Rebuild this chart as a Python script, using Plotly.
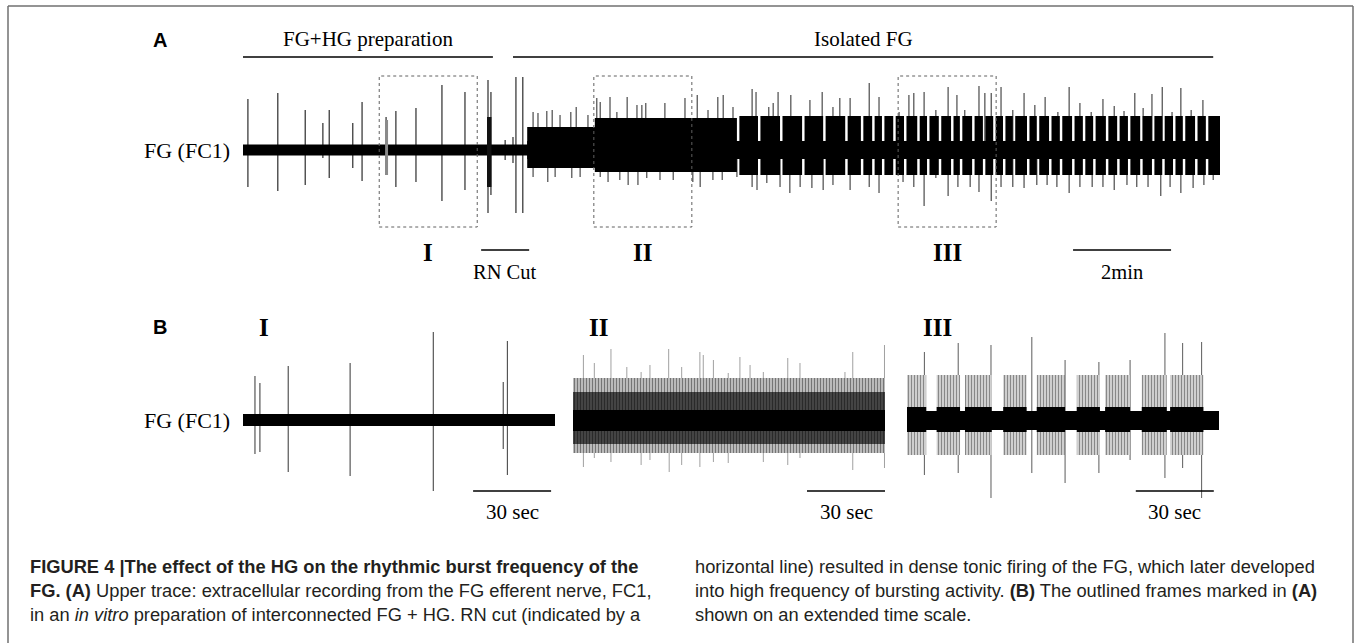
import plotly.graph_objects as go

W, H = 1356, 643

# ---------------- Panel A : whole recording (time in min, amplitude in a.u.) ----------------
A_T_END = 19.94
A_CUT_T = 5.80            # RN cut -> onset of dense tonic firing
A_BURST_ONSET = 10.08     # onset of bursting

# spikes before the RN cut (up / down tips)
A_pre_t  = [0.10, 0.71, 1.27, 1.63, 1.76, 2.24, 2.43, 2.92, 3.12, 3.53, 4.06, 4.53, 5.00, 5.06, 5.35, 5.51, 5.57, 5.71]
A_pre_up = [51, 57, 40, 27, 40, 27, 48, 33, 39, 42, 65, 58, 70, 58, 10, 13, 73, 73]
A_pre_dn = [-37, -41, -35, -8, -28, -18, -31, -25, -37, -32, -51, -40, -63, -45, -10, -13, -63, -63]
A_pre_noise = 5.5
# short bursts before the cut
A_preburst_start = [2.90, 4.98]
A_preburst_end   = [2.96, 5.07]
A_preburst_top   = [30, 33]
A_preburst_bot   = [-25, -37]

# dense tonic firing after the cut
A_dense_start = [5.80, 7.18]
A_dense_end   = [7.18, 10.08]
A_dense_top   = [23, 32]
A_dense_bot   = [-18, -22]
A_core_noise  = 9

# bursting period: pauses between bursts
A_pause_t = [10.08, 10.51, 10.96, 11.41, 11.84, 12.29, 12.61, 12.84, 13.04, 13.27, 13.49, 13.76,
             13.96, 14.20, 14.45, 14.63, 14.88, 15.10, 15.31, 15.51, 15.71, 16.00, 16.20, 16.45,
             16.67, 16.92, 17.14, 17.35, 17.61, 17.84, 18.06, 18.31, 18.55, 18.76, 18.98, 19.18,
             19.43, 19.65]
A_pause_dur = 0.05
A_burst_top = 34
A_burst_bot = -25

# large units after the cut
A_up_t = [5.92, 6.02, 6.20, 6.31, 6.47, 6.69, 6.80, 7.04, 7.22, 7.29, 7.49, 7.63, 7.84, 8.04, 8.14,
          8.22, 8.61, 9.02, 9.27, 9.49, 9.69, 9.80, 10.00, 10.39, 10.47, 10.73, 10.82, 10.92, 11.18,
          11.57, 11.82, 12.04, 12.18, 12.39, 12.78, 12.98, 13.39, 13.59, 13.69, 13.90, 14.14, 14.39,
          14.57, 14.73, 15.02, 15.14, 15.27, 15.47, 15.71, 15.94, 16.16, 16.37, 16.63, 16.86, 17.08,
          17.31, 17.55, 17.78, 17.98, 18.20, 18.37, 18.55, 18.76, 18.96, 19.14, 19.35, 19.59]
A_up_amp = [38, 37, 39, 40, 35, 38, 43, 35, 52, 48, 53, 38, 53, 45, 45,
            47, 47, 52, 55, 40, 53, 55, 43, 61, 58, 43, 47, 58, 55,
            50, 58, 43, 52, 52, 67, 53, 38, 55, 57, 58, 40, 63,
            55, 40, 64, 57, 57, 63, 40, 57, 45, 53, 38, 63, 47,
            38, 51, 44, 39, 57, 42, 56, 63, 38, 62, 40, 50]
A_dn_t = [5.92, 6.22, 6.37, 6.71, 6.88, 7.29, 7.45, 7.69, 7.86, 8.06, 8.24, 8.51, 8.78, 9.18, 9.33,
          9.59, 9.78, 10.08, 10.39, 10.49, 10.69, 10.96, 11.16, 11.37, 11.61, 11.84, 12.04, 12.39,
          12.78, 12.98, 13.47, 13.69, 13.90, 14.14, 14.39, 14.59, 14.84, 15.02, 15.27, 15.47, 15.71,
          15.94, 16.20, 16.41, 16.61, 16.86, 17.08, 17.33, 17.55, 17.78, 18.04, 18.24, 18.47, 18.73,
          18.92, 19.14, 19.39, 19.61, 19.80]
A_dn_amp = [-27, -32, -27, -28, -27, -27, -32, -30, -35, -35, -28, -30, -30, -32, -37,
            -30, -30, -27, -37, -40, -33, -37, -43, -37, -38, -40, -35, -40,
            -37, -43, -32, -37, -56, -28, -46, -37, -37, -42, -51, -37, -37,
            -38, -35, -35, -37, -43, -37, -37, -37, -40, -35, -37, -37, -46,
            -37, -43, -38, -35, -30]

# outlined frames (2 min each) and markers
A_frame_start = [2.78, 7.16, 13.37]
A_frame_len = 2.0
A_frame_label = ["I", "II", "III"]
A_cond_start = [0.0, 5.51]
A_cond_end = [5.10, 19.80]
A_cond_label = ["FG+HG preparation", "Isolated FG"]
A_rn_cut = [4.86, 5.84]
A_scale_start, A_scale_len = 16.94, 2.0     # 2 min

# ---------------- Panel B : expanded frames (time in s) ----------------
B_T_END = 120
B_scale_start = [88.5, 90.0, 88.0]
B_scale_len = 30

# frame I
B1_t = [4.6, 6.5, 17.4, 41.2, 73.2, 100.1, 101.7]
B1_up = [44, 37, 54, 57, 88, 38, 79]
B1_dn = [-34, -32, -52, -56, -71, -29, -55]
B1_noise = 6

# frame II (dense tonic firing)
B2_up_t = [4.0, 8.2, 14.6, 20.7, 26.2, 29.6, 36.8, 41.8, 48.8, 50.1, 54.0, 59.7, 64.2, 68.1, 73.2,
           82.6, 87.3, 104.6, 107.6, 119.8]
B2_up_amp = [65, 57, 71, 53, 48, 55, 71, 53, 68, 65, 60, 47, 63, 55, 48, 62, 57, 48, 68, 75]
B2_dn_t = [4.0, 8.2, 14.6, 26.2, 29.6, 37.0, 41.8, 48.8, 54.0, 59.7, 73.2, 82.6, 87.3, 107.6, 119.8]
B2_dn_amp = [-47, -38, -42, -45, -40, -52, -45, -47, -42, -43, -42, -45, -38, -50, -48]
B2_outer = (42, -33)
B2_mid = (28, -24)
B2_core = (10, -11)

# frame III (bursting)
B3_burst_start = [0.0, 11.4, 22.3, 37.0, 49.9, 65.3, 76.2, 90.3, 101.2]
B3_burst_end   = [7.4, 20.4, 32.6, 46.0, 60.8, 74.2, 85.8, 99.9, 114.0]
B3_burst_env = (45, -35)
B3_burst_core = (13, -12)
B3_core = (9, -10)
B3_t = [6.7, 19.7, 32.3, 48.0, 60.8, 73.8, 85.8, 99.2, 106.0, 113.3]
B3_up = [68, 77, 75, 83, 60, 58, 60, 87, 77, 78]
B3_dn = [-55, -53, -78, -53, -63, -53, -40, -58, -48, -78]


# ---------------- helpers ----------------
def vlines(ts, tops, bots):
    xs, ys = [], []
    for t, a, b in zip(ts, tops, bots):
        xs += [t, t, None]
        ys += [b, a, None]
    return xs, ys


def boxes(starts, ends, tops, bots):
    xs, ys = [], []
    for s, e, t, b in zip(starts, ends, tops, bots):
        xs += [s, e, e, s, s, None]
        ys += [b, b, t, t, b, None]
    return xs, ys


fig = go.Figure()


def add_lines(xs, ys, color, width, ax):
    fig.add_trace(go.Scatter(x=xs, y=ys, mode="lines", line=dict(color=color, width=width),
                             xaxis="x" + ax, yaxis="y" + ax, hoverinfo="skip", showlegend=False))


def add_fill(xs, ys, ax, color="black", pattern=None):
    kw = dict(x=xs, y=ys, mode="lines", fill="toself", fillcolor=color, line=dict(width=0),
              xaxis="x" + ax, yaxis="y" + ax, hoverinfo="skip", showlegend=False)
    if pattern:
        kw["fillpattern"] = pattern
    fig.add_trace(go.Scatter(**kw))


# ---- Panel A traces ----
xs, ys = vlines(A_pre_t, A_pre_up, A_pre_dn)
add_lines(xs, ys, "#3c3c3c", 1.3, "")
xs, ys = vlines(A_up_t, A_up_amp, [0] * len(A_up_t))
add_lines(xs, ys, "#4a4a4a", 1.2, "")
xs, ys = vlines(A_dn_t, [0] * len(A_dn_t), A_dn_amp)
add_lines(xs, ys, "#4a4a4a", 1.2, "")

xs, ys = boxes([0, A_CUT_T], [A_CUT_T, A_T_END], [A_pre_noise, A_core_noise], [-A_pre_noise, -A_core_noise])
add_fill(xs, ys, "")
xs, ys = boxes(A_preburst_start[:1], A_preburst_end[:1], A_preburst_top[:1], A_preburst_bot[:1])
add_fill(xs, ys, "", "#8a8a8a")
xs, ys = boxes(A_preburst_start[1:], A_preburst_end[1:], A_preburst_top[1:], A_preburst_bot[1:])
add_fill(xs, ys, "", "#111")
xs, ys = boxes(A_dense_start, A_dense_end, A_dense_top, A_dense_bot)
add_fill(xs, ys, "")
b_start = [p + A_pause_dur for p in A_pause_t]
b_end = A_pause_t[1:] + [A_T_END]
xs, ys = boxes(b_start, b_end, [A_burst_top] * len(b_start), [A_burst_bot] * len(b_start))
add_fill(xs, ys, "")

# ---- Panel B-I ----
xs, ys = vlines(B1_t, B1_up, B1_dn)
add_lines(xs, ys, "#555", 1.2, "2")
xs, ys = boxes([0], [B_T_END], [B1_noise], [-B1_noise])
add_fill(xs, ys, "2")

# ---- Panel B-II ----
xs, ys = vlines(B2_up_t, B2_up_amp, [0] * len(B2_up_t))
add_lines(xs, ys, "#a0a0a0", 1.0, "3")
xs, ys = vlines(B2_dn_t, [0] * len(B2_dn_t), B2_dn_amp)
add_lines(xs, ys, "#a0a0a0", 1.0, "3")
xs, ys = boxes([0], [B_T_END], [B2_outer[0]], [B2_outer[1]])
add_fill(xs, ys, "3", "#bdbdbd", dict(shape="|", fgcolor="#222", bgcolor="#c8c8c8", size=3, solidity=0.45))
xs, ys = boxes([0], [B_T_END], [B2_mid[0]], [B2_mid[1]])
add_fill(xs, ys, "3", "#333", dict(shape="|", fgcolor="#000", bgcolor="#555", size=3, solidity=0.6))
xs, ys = boxes([0], [B_T_END], [B2_core[0]], [B2_core[1]])
add_fill(xs, ys, "3")

# ---- Panel B-III ----
xs, ys = vlines(B3_t, B3_up, B3_dn)
add_lines(xs, ys, "#6a6a6a", 1.1, "4")
n3 = len(B3_burst_start)
xs, ys = boxes(B3_burst_start, B3_burst_end, [B3_burst_env[0]] * n3, [B3_burst_env[1]] * n3)
add_fill(xs, ys, "4", "white", dict(shape="|", fgcolor="#2a2a2a", bgcolor="#e6e6e6", size=3, solidity=0.5))
xs, ys = boxes(B3_burst_start, B3_burst_end, [B3_burst_core[0]] * n3, [B3_burst_core[1]] * n3)
add_fill(xs, ys, "4")
xs, ys = boxes([0], [B_T_END], [B3_core[0]], [B3_core[1]])
add_fill(xs, ys, "4")

# ---------------- layout ----------------
def xdom(p0, p1):
    return [p0 / W, p1 / W]


def ydom(top, bot):
    return [1 - bot / H, 1 - top / H]


hidden = dict(visible=False, fixedrange=True)
layout = dict(
    width=W, height=H, margin=dict(l=0, r=0, t=0, b=0),
    paper_bgcolor="white", plot_bgcolor="rgba(0,0,0,0)", showlegend=False,
    xaxis=dict(domain=xdom(243, 243 + A_T_END * 49), range=[0, A_T_END], **hidden),
    yaxis=dict(domain=ydom(30, 300), range=[-150, 120], **hidden),
    xaxis2=dict(domain=xdom(243, 555), range=[0, B_T_END], **hidden),
    yaxis2=dict(domain=ydom(310, 530), range=[-110, 110], **hidden),
    xaxis3=dict(domain=xdom(573, 885), range=[0, B_T_END], **hidden),
    yaxis3=dict(domain=ydom(310, 530), range=[-110, 110], **hidden),
    xaxis4=dict(domain=xdom(907, 1219), range=[0, B_T_END], **hidden),
    yaxis4=dict(domain=ydom(310, 530), range=[-110, 110], **hidden),
)
fig.update_layout(**layout)

SERIF = "Liberation Serif, Times New Roman, serif"
SANS = "Liberation Sans, Arial, sans-serif"
shapes, ann = [], []

# figure frame (top, left, right edges)
frame_line = dict(color="#707070", width=1.5)
for x0, y0, x1, y1 in [(8, 6, 1353, 6), (8, 6, 8, H), (1353, 6, 1353, H)]:
    shapes.append(dict(type="line", xref="paper", yref="paper", x0=x0 / W, x1=x1 / W,
                       y0=1 - y0 / H, y1=1 - y1 / H, line=frame_line))

# condition lines + labels
for s, e, lab in zip(A_cond_start, A_cond_end, A_cond_label):
    shapes.append(dict(type="line", xref="x", yref="y", x0=s, x1=e, y0=93, y1=93,
                       line=dict(color="black", width=1.5)))
    ann.append(dict(xref="x", yref="y", x=(s + e) / 2, y=111, text=lab, showarrow=False,
                    font=dict(family=SERIF, size=21, color="black")))
# frames
for s, lab in zip(A_frame_start, A_frame_label):
    shapes.append(dict(type="rect", xref="x", yref="y", x0=s, x1=s + A_frame_len, y0=-77, y1=74,
                       line=dict(color="#606060", width=1, dash="dot")))
    ann.append(dict(xref="x", yref="y", x=s + A_frame_len / 2, y=-102, text="<b>%s</b>" % lab,
                    showarrow=False, font=dict(family=SERIF, size=25, color="black")))
# RN cut
shapes.append(dict(type="line", xref="x", yref="y", x0=A_rn_cut[0], x1=A_rn_cut[1], y0=-100, y1=-100,
                   line=dict(color="black", width=1.5)))
ann.append(dict(xref="x", yref="y", x=sum(A_rn_cut) / 2, y=-122, text="RN Cut", showarrow=False,
                font=dict(family=SERIF, size=20.5, color="black")))
# 2 min scale bar
shapes.append(dict(type="line", xref="x", yref="y", x0=A_scale_start, x1=A_scale_start + A_scale_len,
                   y0=-100, y1=-100, line=dict(color="black", width=1.5)))
ann.append(dict(xref="x", yref="y", x=A_scale_start + A_scale_len / 2, y=-122, text="2min",
                showarrow=False, font=dict(family=SERIF, size=20.5, color="black")))

# panel B labels + scale bars
for ax, lab, s0 in zip(["2", "3", "4"], ["I", "II", "III"], B_scale_start):
    shapes.append(dict(type="line", xref="x" + ax, yref="y" + ax, x0=s0, x1=s0 + B_scale_len,
                       y0=-71, y1=-71, line=dict(color="black", width=1.5)))
    ann.append(dict(xref="x" + ax, yref="y" + ax, x=s0 + B_scale_len / 2, y=-92, text="30 sec",
                    showarrow=False, font=dict(family=SERIF, size=21, color="black")))
    ann.append(dict(xref="x" + ax, yref="y" + ax, x=5.5, y=93, text="<b>%s</b>" % lab, xanchor="left",
                    showarrow=False, font=dict(family=SERIF, size=25, color="black")))

# channel labels and panel letters
for yc in [150, 420]:
    ann.append(dict(xref="paper", yref="paper", x=232 / W, y=1 - yc / H, xanchor="right", yanchor="middle",
                    text="FG (FC1)", showarrow=False, font=dict(family=SERIF, size=22, color="black")))
for lab, yc in [("A", 40), ("B", 327)]:
    ann.append(dict(xref="paper", yref="paper", x=160 / W, y=1 - yc / H, xanchor="center", yanchor="middle",
                    text="<b>%s</b>" % lab, showarrow=False, font=dict(family=SANS, size=20, color="black")))

# caption
cap_left = [
    "<b>FIGURE 4 |The effect of the HG on the rhythmic burst frequency of the</b>",
    "<b>FG. (A)</b> Upper trace: extracellular recording from the FG efferent nerve, FC1,",
    "in an <i>in vitro</i> preparation of interconnected FG + HG. RN cut (indicated by a",
]
cap_right = [
    "horizontal line) resulted in dense tonic firing of the FG, which later developed",
    "into high frequency of bursting activity. <b>(B)</b> The outlined frames marked in <b>(A)</b>",
    "shown on an extended time scale.",
]
for i, yc in enumerate([566, 590, 614]):
    for xpx, lines in [(28, cap_left), (693, cap_right)]:
        ann.append(dict(xref="paper", yref="paper", x=xpx / W, y=1 - yc / H, xanchor="left",
                        yanchor="middle", text=lines[i], showarrow=False,
                        font=dict(family=SANS, size=18.3, color="#231f20")))

fig.update_layout(shapes=shapes, annotations=ann)
fig.write_html("out.html", config={"displayModeBar": False, "staticPlot": True},
               post_script="document.body.style.margin='0';document.body.style.overflow='hidden';")
